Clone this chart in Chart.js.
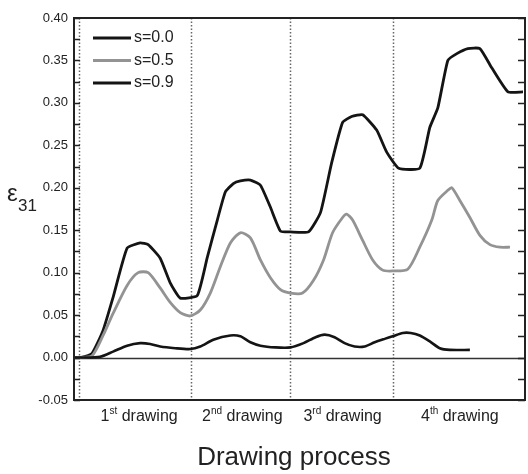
<!DOCTYPE html>
<html>
<head>
<meta charset="utf-8">
<script src="https://cdn.jsdelivr.net/npm/chart.js@4/dist/chart.umd.min.js"></script>
<style>
  html, body { margin: 0; padding: 0; background: #fff; }
</style>
</head>
<body>
<canvas id="chart" width="528" height="474"></canvas>
<script>
// Series (x = drawing progress, arbitrary units 0..45)
const s00X = [0, 0.6, 2.6, 3.9, 5.3, 6.6, 7.6, 8.6, 10.1, 11.6, 12.6, 13.9, 15.6, 16.6, 17.6, 18.6, 20.1, 21.6, 22.9, 24.1, 25.0, 26.0, 27.0, 28.0, 29.0, 30.0, 31.0, 31.8, 32.8, 33.6, 34.5, 35.5, 36.5, 37.5, 39.5];
const s00Y = [0, 0, 0.001, 0.007, 0.014, 0.017, 0.016, 0.013, 0.011, 0.010, 0.013, 0.021, 0.026, 0.025, 0.018, 0.014, 0.012, 0.012, 0.017, 0.024, 0.027, 0.024, 0.017, 0.013, 0.013, 0.018, 0.022, 0.025, 0.029, 0.029, 0.026, 0.019, 0.011, 0.009, 0.009];

const s05X = [0, 0.6, 1.8, 2.9, 3.9, 5.3, 6.4, 7.4, 8.6, 9.6, 10.6, 11.6, 12.6, 13.6, 14.6, 15.6, 16.6, 17.6, 18.6, 19.6, 20.6, 21.6, 22.8, 23.9, 24.9, 25.8, 26.8, 27.2, 27.8, 28.8, 29.8, 30.8, 31.8, 33.3, 34.5, 35.7, 36.3, 37.3, 37.7, 38.5, 39.5, 40.5, 41.5, 42.5, 43.5];
const s05Y = [0, 0, 0.002, 0.026, 0.052, 0.085, 0.100, 0.100, 0.082, 0.065, 0.053, 0.049, 0.056, 0.076, 0.107, 0.135, 0.147, 0.141, 0.115, 0.094, 0.080, 0.076, 0.076, 0.091, 0.115, 0.147, 0.165, 0.169, 0.162, 0.138, 0.115, 0.103, 0.102, 0.104, 0.130, 0.162, 0.185, 0.197, 0.200, 0.185, 0.165, 0.144, 0.133, 0.130, 0.130];

const s09X = [0, 0.6, 1.8, 2.9, 3.9, 5.3, 6.6, 7.4, 8.6, 9.6, 10.6, 12.3, 13.3, 14.3, 15.1, 15.9, 16.6, 17.6, 18.6, 19.6, 20.6, 21.6, 23.4, 24.6, 25.7, 26.8, 27.7, 28.8, 30.2, 31.2, 32.4, 34.5, 35.5, 36.3, 37.3, 38.2, 39.3, 40.5, 41.7, 43.3, 44.8];
const s09Y = [0, 0, 0.005, 0.032, 0.071, 0.129, 0.135, 0.133, 0.117, 0.088, 0.070, 0.073, 0.118, 0.162, 0.195, 0.205, 0.208, 0.209, 0.203, 0.177, 0.149, 0.148, 0.148, 0.171, 0.229, 0.277, 0.284, 0.286, 0.268, 0.242, 0.223, 0.223, 0.271, 0.294, 0.350, 0.358, 0.364, 0.364, 0.341, 0.313, 0.313];

const seriesLabels = ['s=0.0', 's=0.5', 's=0.9'];
const drawingBounds = [0.5, 11.7, 21.6, 31.8];
const drawingNums = ['1', '2', '3', '4'];
const drawingSuffix = ['st', 'nd', 'rd', 'th'];
const drawingLabelPos = [6.5, 16.8, 26.8, 38.5];

const FONT = '"Liberation Sans", Arial, sans-serif';
Chart.defaults.font.family = FONT;

const toPoints = (xs, ys) => xs.map((x, i) => ({ x: x, y: ys[i] }));

// Extra drawing: frame, inward ticks, dividers, legend, labels
const decor = {
    id: 'decor',
    beforeDatasetsDraw(chart) {
        const { ctx, chartArea: a, scales: { x, y } } = chart;
        ctx.save();
        // dotted dividers between drawings
        ctx.strokeStyle = '#666';
        ctx.lineWidth = 1.5;
        ctx.setLineDash([1.5, 2]);
        drawingBounds.forEach(v => {
            const px = Math.round(x.getPixelForValue(v)) + 0.5;
            ctx.beginPath();
            ctx.moveTo(px, a.top);
            ctx.lineTo(px, a.bottom);
            ctx.stroke();
        });
        ctx.setLineDash([]);
        // zero line
        const y0 = Math.round(y.getPixelForValue(0)) + 0.5;
        ctx.strokeStyle = '#333';
        ctx.lineWidth = 1.5;
        ctx.beginPath();
        ctx.moveTo(a.left, y0);
        ctx.lineTo(a.right, y0);
        ctx.stroke();
        ctx.restore();
    },
    afterDraw(chart) {
        const { ctx, chartArea: a, scales: { x, y } } = chart;
        ctx.save();
        // frame
        ctx.strokeStyle = '#222';
        ctx.lineWidth = 2;
        ctx.strokeRect(a.left, a.top, a.right - a.left, a.bottom - a.top);
        // inward ticks on left and right
        ctx.lineWidth = 1.5;
        for (let k = 0; k <= 18; k++) {
            const v = -0.05 + k * 0.025;
            const py = Math.round(y.getPixelForValue(v)) + 0.5;
            ctx.beginPath();
            ctx.moveTo(a.left, py);
            ctx.lineTo(a.left + 6, py);
            ctx.moveTo(a.right - 7, py);
            ctx.lineTo(a.right, py);
            ctx.stroke();
        }
        // legend
        chart.data.datasets.forEach((ds, i) => {
            const ly = 38 + i * 22.5;
            ctx.strokeStyle = ds.borderColor;
            ctx.lineWidth = 3;
            ctx.beginPath();
            ctx.moveTo(93, ly);
            ctx.lineTo(131, ly);
            ctx.stroke();
            ctx.fillStyle = '#222';
            ctx.font = '16px ' + FONT;
            ctx.textBaseline = 'middle';
            ctx.textAlign = 'left';
            ctx.fillText(ds.label, 134, ly);
        });
        // drawing labels with superscripts
        ctx.fillStyle = '#222';
        ctx.textBaseline = 'alphabetic';
        ctx.textAlign = 'left';
        drawingNums.forEach((n, i) => {
            const big = '16px ' + FONT, small = '10px ' + FONT;
            ctx.font = big;
            const wN = ctx.measureText(n).width;
            const wD = ctx.measureText(' drawing').width;
            ctx.font = small;
            const wS = ctx.measureText(drawingSuffix[i]).width;
            const cx = x.getPixelForValue(drawingLabelPos[i]);
            let px = cx - (wN + wS + wD) / 2;
            const base = 421;
            ctx.font = big;
            ctx.fillText(n, px, base);
            px += wN;
            ctx.font = small;
            ctx.fillText(drawingSuffix[i], px, base - 7);
            px += wS;
            ctx.font = big;
            ctx.fillText(' drawing', px, base);
        });
        // axis titles
        ctx.font = '26px ' + FONT;
        ctx.textAlign = 'center';
        ctx.fillText('Drawing process', 294, 465);
        ctx.textAlign = 'left';
        ctx.font = '24px ' + FONT;
        ctx.fillText('\u03B5', 7, 201);
        ctx.font = '17px ' + FONT;
        ctx.fillText('31', 18, 211);
        ctx.restore();
    }
};

new Chart(document.getElementById('chart'), {
    type: 'line',
    data: {
        datasets: [
            { label: seriesLabels[0], data: toPoints(s00X, s00Y), borderColor: '#141414', borderWidth: 2.6, tension: 0.25 },
            { label: seriesLabels[1], data: toPoints(s05X, s05Y), borderColor: '#939393', borderWidth: 2.8, tension: 0.25 },
            { label: seriesLabels[2], data: toPoints(s09X, s09Y), borderColor: '#141414', borderWidth: 2.8, tension: 0.15 }
        ]
    },
    options: {
        responsive: false,
        animation: false,
        parsing: false,
        elements: { point: { radius: 0 } },
        layout: { padding: { top: 18, right: 3, left: 0, bottom: 0 } },
        plugins: { legend: { display: false }, tooltip: { enabled: false } },
        scales: {
            x: {
                type: 'linear',
                min: 0,
                max: 45,
                grid: { display: false, drawTicks: false },
                border: { display: false },
                ticks: { display: false },
                afterFit: (scale) => { scale.height = 74; }
            },
            y: {
                min: -0.05,
                max: 0.40,
                grid: { display: false, drawTicks: false },
                border: { display: false },
                ticks: {
                    stepSize: 0.05,
                    padding: 6,
                    color: '#222',
                    font: { size: 13 },
                    callback: (v) => v.toFixed(2)
                },
                afterFit: (scale) => { scale.width = 74; }
            }
        }
    },
    plugins: [decor]
});
</script>
</body>
</html>
